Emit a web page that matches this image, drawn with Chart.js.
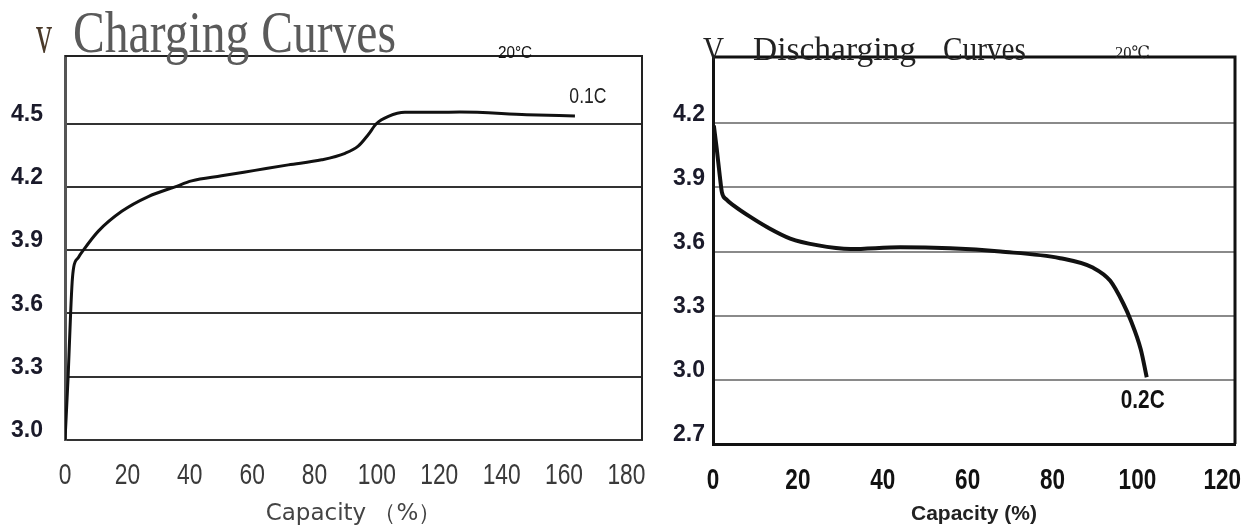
<!DOCTYPE html>
<html><head><meta charset="utf-8">
<script src="https://cdn.jsdelivr.net/npm/chart.js@4.4.1/dist/chart.umd.min.js"></script>
<style>
html,body{margin:0;padding:0;background:#fff;width:1254px;height:531px;overflow:hidden;}
canvas{position:absolute;top:0;}
#c1{left:0;} #c2{left:660px;}
</style></head><body>
<canvas id="c1" width="660" height="531"></canvas>
<canvas id="c2" width="594" height="531"></canvas>
<script>
// ---- data ----
const chargeCapacity = [0, 1.0, 1.8, 2.3, 2.8, 4.3, 5.9, 10.7, 18.2, 26.7, 35.3, 40.6, 50.2, 60.9, 71.6, 82.3, 89.8, 94.0, 97.2, 99.9, 103.7, 109.0, 119.6, 126.6, 148.0, 163.5];
const chargeVoltage  = [3.0, 3.3, 3.6, 3.75, 3.82, 3.865, 3.90, 3.99, 4.084, 4.154, 4.20, 4.228, 4.252, 4.278, 4.304, 4.328, 4.359, 4.393, 4.447, 4.50, 4.534, 4.553, 4.553, 4.554, 4.542, 4.536];
const chargeTicksX = [0, 20, 40, 60, 80, 100, 120, 140, 160, 180];
const chargeTicksY = [3.0, 3.3, 3.6, 3.9, 4.2, 4.5];

const dischargeCapacity = [0.2, 0.9, 1.6, 2.1, 3.2, 4.9, 8.8, 12.7, 18.2, 24.5, 32.4, 44.1, 55.9, 67.7, 81.8, 89.6, 93.6, 96.7, 98.4, 100.8, 102.2];
const dischargeVoltage  = [4.19, 4.077, 3.954, 3.877, 3.843, 3.815, 3.762, 3.715, 3.661, 3.630, 3.612, 3.620, 3.615, 3.600, 3.569, 3.524, 3.463, 3.356, 3.280, 3.142, 3.012];
const dischargeTicksX = [0, 20, 40, 60, 80, 100, 120];
const dischargeTicksY = [2.7, 3.0, 3.3, 3.6, 3.9, 4.2];

// ---- helpers ----
function txt(ctx, s, x, y, font, color, o) {
  o = o || {};
  ctx.save();
  ctx.font = font; ctx.fillStyle = color;
  ctx.textBaseline = o.baseline || 'middle';
  if (o.width) {
    ctx.textAlign = 'left';
    const w = ctx.measureText(s).width;
    ctx.translate(x, y); ctx.scale(o.width / w, 1); ctx.fillText(s, 0, 0);
  } else {
    ctx.textAlign = o.align || 'center';
    ctx.translate(x, y); ctx.scale(o.sx || 1, 1); ctx.fillText(s, 0, 0);
  }
  ctx.restore();
}
function framePlugin(color, width, extra) {
  return {
    id: 'frame',
    afterDraw(chart) {
      const {ctx, chartArea: a} = chart;
      ctx.save();
      ctx.strokeStyle = color; ctx.lineWidth = width;
      ctx.beginPath();
      ctx.moveTo(a.left, a.top); ctx.lineTo(a.right, a.top); ctx.lineTo(a.right, a.bottom);
      ctx.stroke();
      ctx.restore();
      extra(chart);
    }
  };
}
function drawXTicks(chart, dy, font, color, sx) {
  const s = chart.scales.x, a = chart.chartArea;
  s.ticks.forEach(t => txt(chart.ctx, String(t.value), s.getPixelForValue(t.value), a.bottom + dy, font, color, {sx: sx}));
}
function lastPixel(chart) {
  const meta = chart.getDatasetMeta(0);
  const p = meta.data[meta.data.length - 1];
  return {x: p.x, y: p.y};
}
const SANS = '"Liberation Sans", Arial, sans-serif';
const SERIF = '"Liberation Serif", "DejaVu Serif", serif';

// ---- charging chart ----
new Chart(document.getElementById('c1'), {
  type: 'line',
  data: { datasets: [{
    data: chargeCapacity.map((c, i) => ({x: c, y: chargeVoltage[i]})),
    borderColor: '#111', borderWidth: 3, pointRadius: 0, fill: false,
    cubicInterpolationMode: 'monotone'
  }]},
  options: {
    responsive: false, animation: false, devicePixelRatio: 1,
    layout: { padding: {top: 56, right: 18, left: 0, bottom: 0} },
    plugins: { legend: {display: false}, tooltip: {enabled: false} },
    scales: {
      x: {
        type: 'linear', min: 0, max: 185,
        afterBuildTicks: s => { s.ticks = chargeTicksX.map(v => ({value: v})); },
        afterFit: s => { s.height = 91; },
        grid: { display: false, drawTicks: false },
        border: { display: true, color: '#333', width: 2 },
        ticks: { display: false },
        title: { display: true, text: 'Capacity （%）', color: '#444',
                 font: {family: '"DejaVu Sans", sans-serif', size: 23}, padding: {top: 0, bottom: 3} }
      },
      y: {
        type: 'linear', min: 3.0, max: 4.82,
        afterBuildTicks: s => { s.ticks = chargeTicksY.map(v => ({value: v})); },
        afterFit: s => { s.width = 65; },
        grid: { color: '#333', lineWidth: 2, drawTicks: false },
        border: { display: true, color: '#555', width: 3 },
        ticks: { padding: 22, labelOffset: -9, color: '#1a1a2a',
                 font: {family: SANS, size: 23, weight: 'bold'},
                 callback: v => Number(v).toFixed(1) }
      }
    }
  },
  plugins: [framePlugin('#222', 2, chart => {
    const ctx = chart.ctx, a = chart.chartArea;
    drawXTicks(chart, 36, '30px ' + SANS, '#3a3a3a', 0.76);
    txt(ctx, 'v', 36, 52, '54px ' + SERIF, '#4a3a2a', {width: 16, baseline: 'alphabetic'});
    txt(ctx, 'Charging Curves', 73, 52, '60px ' + SERIF, '#5a5a5a', {width: 323, baseline: 'alphabetic'});
    txt(ctx, '20°C', a.left + (a.right - a.left) * 0.78, a.top - 3, '17px ' + SANS, '#111', {sx: 0.9});
    const p = lastPixel(chart);
    txt(ctx, '0.1C', p.x + 13, p.y - 19, '22px ' + SANS, '#222', {sx: 0.8});
  })]
});

// ---- discharging chart ----
new Chart(document.getElementById('c2'), {
  type: 'line',
  data: { datasets: [{
    data: dischargeCapacity.map((c, i) => ({x: c, y: dischargeVoltage[i]})),
    borderColor: '#111', borderWidth: 4, pointRadius: 0, fill: false,
    cubicInterpolationMode: 'monotone'
  }]},
  options: {
    responsive: false, animation: false, devicePixelRatio: 1,
    layout: { padding: {top: 57, right: 19, left: 0, bottom: 0} },
    plugins: { legend: {display: false}, tooltip: {enabled: false} },
    scales: {
      x: {
        type: 'linear', min: 0, max: 123,
        afterBuildTicks: s => { s.ticks = dischargeTicksX.map(v => ({value: v})); },
        afterFit: s => { s.height = 87; },
        grid: { display: false, drawTicks: false },
        border: { display: true, color: '#111', width: 3 },
        ticks: { display: false },
        title: { display: true, text: 'Capacity (%)', color: '#222',
                 font: {family: SANS, size: 21, weight: 'bold'}, padding: {top: 0, bottom: 4} }
      },
      y: {
        type: 'linear', min: 2.7, max: 4.51,
        afterBuildTicks: s => { s.ticks = dischargeTicksY.map(v => ({value: v})); },
        afterFit: s => { s.width = 53; },
        grid: { color: '#8a8a8a', lineWidth: 2, drawTicks: false },
        border: { display: true, color: '#111', width: 3 },
        ticks: { padding: 8, labelOffset: -9, color: '#1a1a2a',
                 font: {family: SANS, size: 23, weight: 'bold'},
                 callback: v => Number(v).toFixed(1) }
      }
    }
  },
  plugins: [framePlugin('#111', 3, chart => {
    const ctx = chart.ctx, a = chart.chartArea;
    drawXTicks(chart, 37, 'bold 30px ' + SANS, '#111', 0.75);
    txt(ctx, 'V', 43, 60, '33px ' + SERIF, '#222', {width: 21, baseline: 'alphabetic'});
    txt(ctx, 'Discharging', 93, 60, '33px ' + SERIF, '#222', {width: 163, baseline: 'alphabetic'});
    txt(ctx, 'Curves', 283, 60, '33px ' + SERIF, '#222', {width: 83, baseline: 'alphabetic'});
    txt(ctx, '20℃', a.left + (a.right - a.left) * 0.77, a.top - 3, '17px ' + SERIF, '#222', {width: 35});
    const p = lastPixel(chart);
    txt(ctx, '0.2C', p.x - 4, p.y + 24, 'bold 26px ' + SANS, '#111', {sx: 0.8});
  })]
});
</script>
</body></html>
